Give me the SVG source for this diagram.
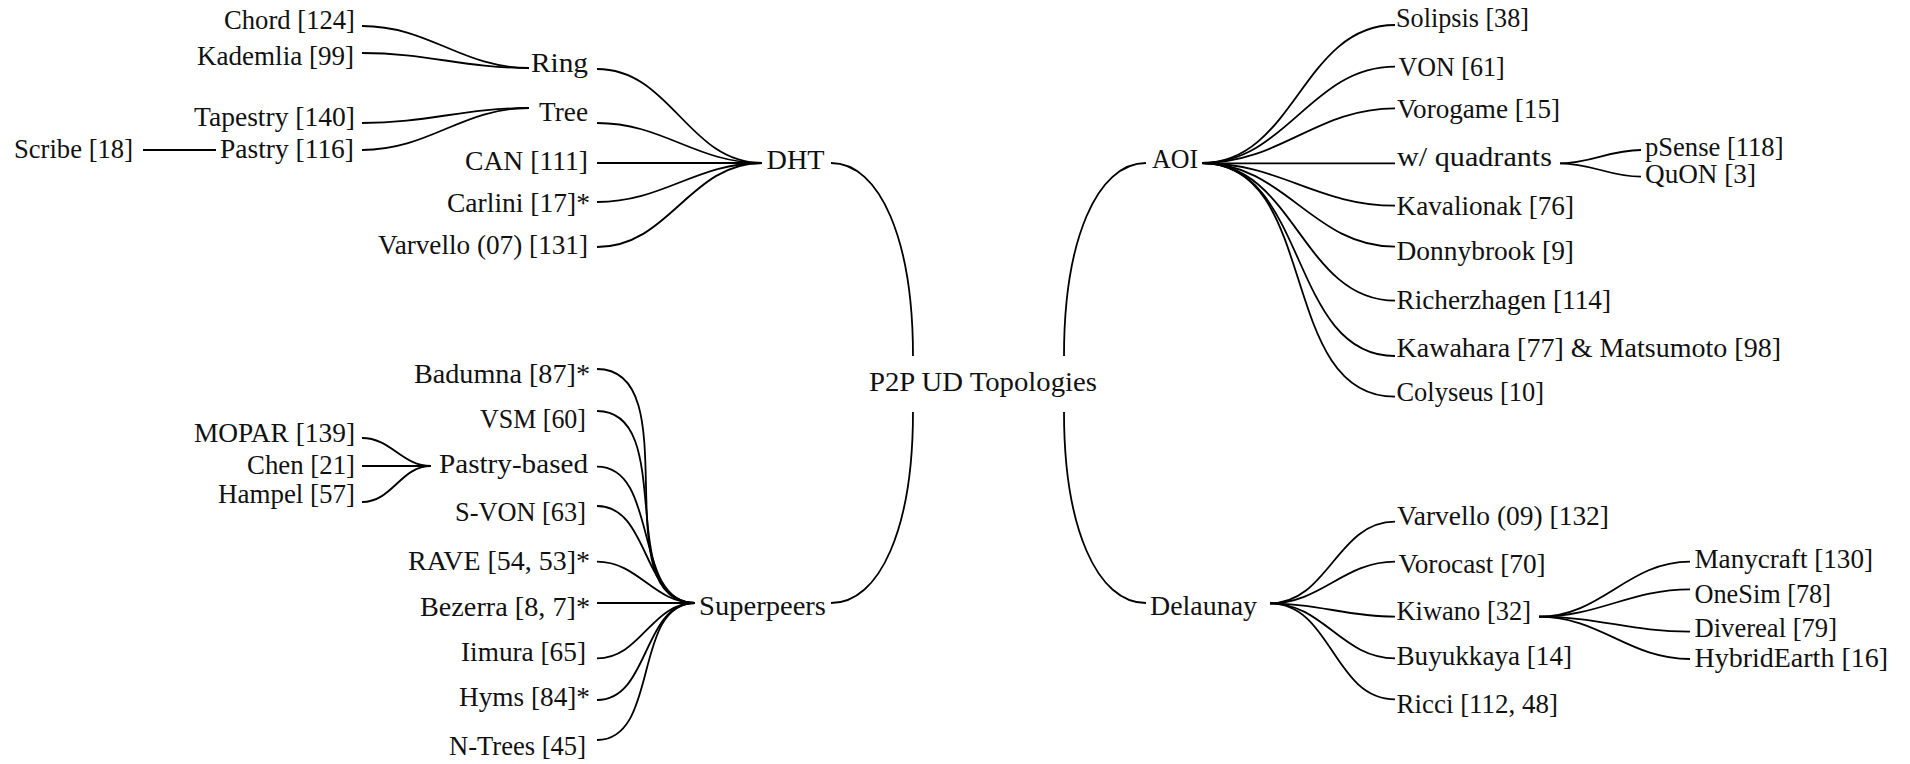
<svg xmlns="http://www.w3.org/2000/svg" width="1910" height="764" viewBox="0 0 1910 764">
<style>
text{font-family:"Liberation Serif","Times New Roman",serif;font-size:28px;fill:#111}
.c path{fill:none;stroke:#000;stroke-width:1.8}
</style>
<rect width="1910" height="764" fill="#fff"/>
<g id="connectors" class="c">
<path d="M362,26 C429.4,26 461.6,68 529,68"/>
<path d="M362,53 C427.6,53 463.4,68 529,68"/>
<path d="M362,123 C427.6,123 463.4,108 529,108"/>
<path d="M362,150 C429.4,150 461.6,108 529,108"/>
<path d="M143,150 H216"/>
<path d="M597,69 C671.3,69 687.7,163 762,163"/>
<path d="M597,123 C663.5,123 695.5,163 762,163"/>
<path d="M597,163 H762"/>
<path d="M597,202 C663.4,202 695.6,163 762,163"/>
<path d="M597,247 C669.5,247 689.5,163 762,163"/>
<path d="M831,163 C880,163 913,240 913,356"/>
<path d="M913,412 C913,528 880,603 831,603"/>
<path d="M1064,356 C1064,240 1097,163 1146,163"/>
<path d="M1064,412 C1064,528 1097,603 1146,603"/>
<path d="M362,438 C391.2,438 401.8,466 431,466"/>
<path d="M362,466 H431"/>
<path d="M362,502 C392.5,502 400.5,466 431,466"/>
<path d="M597,369 C690,369 602,603 695,603"/>
<path d="M597,411 C678,411 614,603 695,603"/>
<path d="M597,466.7 C660,466.7 632,603 695,603"/>
<path d="M597,506 C650,506 642,603 695,603"/>
<path d="M597,561.7 C638.6,561.7 653.4,603 695,603"/>
<path d="M597,603 H695"/>
<path d="M597,658.3 C641,658.3 651,603 695,603"/>
<path d="M597,700 C650,700 642,603 695,603"/>
<path d="M597,740 C660,740 632,603 695,603"/>
<path d="M1202,163 C1294.9,163 1302.1,25 1395,25"/>
<path d="M1202,163 C1286.4,163 1310.6,66.7 1395,66.7"/>
<path d="M1202,163 C1280.5,163 1316.5,108.3 1395,108.3"/>
<path d="M1202,163.3 H1395"/>
<path d="M1202,163 C1279.4,163 1317.6,205.7 1395,205.7"/>
<path d="M1202,163 C1284.4,163 1312.6,246.7 1395,246.7"/>
<path d="M1202,163 C1294.8,163 1302.2,300.7 1395,300.7"/>
<path d="M1202,163 C1308.9,163 1288.1,356 1395,356"/>
<path d="M1202,163 C1320.7,163 1276.3,396.7 1395,396.7"/>
<path d="M1560,163.3 C1592.1,163.3 1608.9,150 1641,150"/>
<path d="M1560,163.3 C1592.1,163.3 1608.9,176.7 1641,176.7"/>
<path d="M1270,603.3 C1328.4,603.3 1336.6,521.7 1395,521.7"/>
<path d="M1270,603.3 C1321.6,603.3 1343.4,561.7 1395,561.7"/>
<path d="M1270,603.3 C1319.2,603.3 1345.8,616.7 1395,616.7"/>
<path d="M1270,603.3 C1323.5,603.3 1341.5,658.3 1395,658.3"/>
<path d="M1270,603.3 C1331.7,603.3 1333.3,699.3 1395,699.3"/>
<path d="M1539,616.7 C1601.9,616.7 1627.1,561.7 1690,561.7"/>
<path d="M1539,616.7 C1599.1,616.7 1629.9,589.3 1690,589.3"/>
<path d="M1539,616.7 C1598.4,616.7 1630.6,631.7 1690,631.7"/>
<path d="M1539,616.7 C1600.4,616.7 1628.6,659 1690,659"/>
</g>
<g id="n-chord"><text x="224" y="29" textLength="131" lengthAdjust="spacingAndGlyphs">Chord [124]</text></g>
<g id="n-kademlia"><text x="197" y="65" textLength="157" lengthAdjust="spacingAndGlyphs">Kademlia [99]</text></g>
<g id="n-tapestry"><text x="194" y="126" textLength="161" lengthAdjust="spacingAndGlyphs">Tapestry [140]</text></g>
<g id="n-pastry"><text x="220" y="158" textLength="134" lengthAdjust="spacingAndGlyphs">Pastry [116]</text></g>
<g id="n-scribe"><text x="14" y="158" textLength="119" lengthAdjust="spacingAndGlyphs">Scribe [18]</text></g>
<g id="n-ring"><text x="531" y="72" textLength="57" lengthAdjust="spacingAndGlyphs">Ring</text></g>
<g id="n-tree"><text x="539" y="121" textLength="49" lengthAdjust="spacingAndGlyphs">Tree</text></g>
<g id="n-can"><text x="465" y="170" textLength="123" lengthAdjust="spacingAndGlyphs">CAN [111]</text></g>
<g id="n-carlini"><text x="447" y="212" textLength="143" lengthAdjust="spacingAndGlyphs">Carlini [17]*</text></g>
<g id="n-varvello07"><text x="378" y="254" textLength="210" lengthAdjust="spacingAndGlyphs">Varvello (07) [131]</text></g>
<g id="n-dht"><text x="766.5" y="169" textLength="58" lengthAdjust="spacingAndGlyphs">DHT</text></g>
<g id="n-badumna"><text x="414" y="383" textLength="176" lengthAdjust="spacingAndGlyphs">Badumna [87]*</text></g>
<g id="n-vsm"><text x="480" y="428" textLength="106" lengthAdjust="spacingAndGlyphs">VSM [60]</text></g>
<g id="n-mopar"><text x="194" y="442" textLength="161" lengthAdjust="spacingAndGlyphs">MOPAR [139]</text></g>
<g id="n-chen"><text x="247" y="474" textLength="108" lengthAdjust="spacingAndGlyphs">Chen [21]</text></g>
<g id="n-hampel"><text x="218" y="503" textLength="137" lengthAdjust="spacingAndGlyphs">Hampel [57]</text></g>
<g id="n-pastrybased"><text x="439" y="473" textLength="149" lengthAdjust="spacingAndGlyphs">Pastry-based</text></g>
<g id="n-svon"><text x="455" y="521" textLength="131" lengthAdjust="spacingAndGlyphs">S-VON [63]</text></g>
<g id="n-rave"><text x="408" y="570" textLength="182" lengthAdjust="spacingAndGlyphs">RAVE [54, 53]*</text></g>
<g id="n-bezerra"><text x="420" y="616" textLength="170" lengthAdjust="spacingAndGlyphs">Bezerra [8, 7]*</text></g>
<g id="n-iimura"><text x="461" y="661" textLength="125" lengthAdjust="spacingAndGlyphs">Iimura [65]</text></g>
<g id="n-hyms"><text x="459" y="706" textLength="131" lengthAdjust="spacingAndGlyphs">Hyms [84]*</text></g>
<g id="n-ntrees"><text x="449" y="755" textLength="137" lengthAdjust="spacingAndGlyphs">N-Trees [45]</text></g>
<g id="n-superpeers"><text x="699" y="615" textLength="127" lengthAdjust="spacingAndGlyphs">Superpeers</text></g>
<g id="n-root"><text x="869" y="391" textLength="228" lengthAdjust="spacingAndGlyphs">P2P UD Topologies</text></g>
<g id="n-aoi"><text x="1152" y="168" textLength="46" lengthAdjust="spacingAndGlyphs">AOI</text></g>
<g id="n-delaunay"><text x="1150" y="615" textLength="107" lengthAdjust="spacingAndGlyphs">Delaunay</text></g>
<g id="n-solipsis"><text x="1396" y="27" textLength="133" lengthAdjust="spacingAndGlyphs">Solipsis [38]</text></g>
<g id="n-von"><text x="1398.6" y="76" textLength="106" lengthAdjust="spacingAndGlyphs">VON [61]</text></g>
<g id="n-vorogame"><text x="1397" y="118" textLength="163" lengthAdjust="spacingAndGlyphs">Vorogame [15]</text></g>
<g id="n-quadrants"><text x="1397" y="166" textLength="155" lengthAdjust="spacingAndGlyphs">w/ quadrants</text></g>
<g id="n-psense"><text x="1645" y="156" textLength="138.5" lengthAdjust="spacingAndGlyphs">pSense [118]</text></g>
<g id="n-quon"><text x="1645" y="183" textLength="111" lengthAdjust="spacingAndGlyphs">QuON [3]</text></g>
<g id="n-kavalionak"><text x="1396.5" y="215" textLength="177.5" lengthAdjust="spacingAndGlyphs">Kavalionak [76]</text></g>
<g id="n-donnybrook"><text x="1396.5" y="260" textLength="177.5" lengthAdjust="spacingAndGlyphs">Donnybrook [9]</text></g>
<g id="n-richerzhagen"><text x="1396.5" y="309" textLength="214.5" lengthAdjust="spacingAndGlyphs">Richerzhagen [114]</text></g>
<g id="n-kawahara"><text x="1396.5" y="357" textLength="384.5" lengthAdjust="spacingAndGlyphs">Kawahara [77] &amp; Matsumoto [98]</text></g>
<g id="n-colyseus"><text x="1396.5" y="401" textLength="147.5" lengthAdjust="spacingAndGlyphs">Colyseus [10]</text></g>
<g id="n-varvello09"><text x="1397" y="525" textLength="212" lengthAdjust="spacingAndGlyphs">Varvello (09) [132]</text></g>
<g id="n-vorocast"><text x="1398.6" y="573" textLength="147" lengthAdjust="spacingAndGlyphs">Vorocast [70]</text></g>
<g id="n-kiwano"><text x="1396.5" y="620" textLength="134.5" lengthAdjust="spacingAndGlyphs">Kiwano [32]</text></g>
<g id="n-buyukkaya"><text x="1396.5" y="665" textLength="175.5" lengthAdjust="spacingAndGlyphs">Buyukkaya [14]</text></g>
<g id="n-ricci"><text x="1396.5" y="713" textLength="161.5" lengthAdjust="spacingAndGlyphs">Ricci [112, 48]</text></g>
<g id="n-manycraft"><text x="1694.5" y="568" textLength="178.5" lengthAdjust="spacingAndGlyphs">Manycraft [130]</text></g>
<g id="n-onesim"><text x="1694.5" y="603" textLength="136.5" lengthAdjust="spacingAndGlyphs">OneSim [78]</text></g>
<g id="n-divereal"><text x="1694.5" y="637" textLength="142.5" lengthAdjust="spacingAndGlyphs">Divereal [79]</text></g>
<g id="n-hybridearth"><text x="1694.5" y="667" textLength="193.5" lengthAdjust="spacingAndGlyphs">HybridEarth [16]</text></g>
</svg>
